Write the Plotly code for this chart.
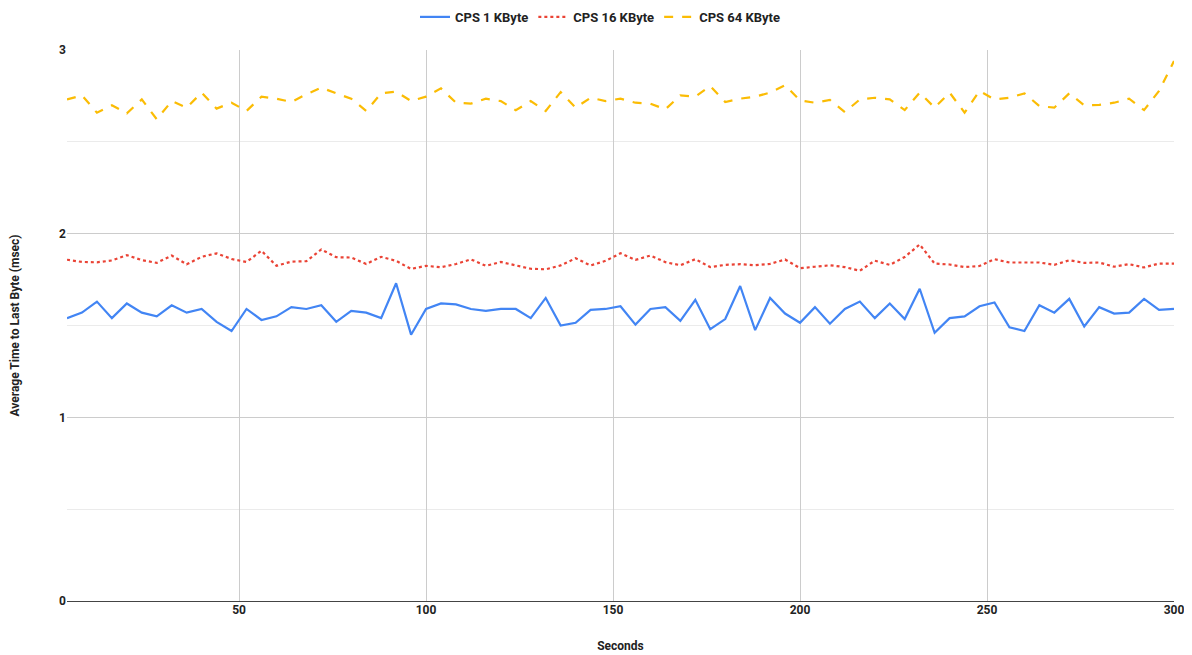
import plotly.graph_objects as go

seconds = list(range(4, 301, 4))

cps_1k = [1.54, 1.57, 1.63, 1.54, 1.62, 1.57, 1.55, 1.61, 1.57, 1.59,
          1.52, 1.47, 1.59, 1.53, 1.55, 1.60, 1.59, 1.61, 1.52, 1.58,
          1.57, 1.54, 1.73, 1.45, 1.59, 1.62, 1.615, 1.59, 1.58, 1.59,
          1.59, 1.54, 1.65, 1.50, 1.515, 1.585, 1.59, 1.605, 1.505, 1.59,
          1.60, 1.525, 1.64, 1.48, 1.535, 1.715, 1.475, 1.65, 1.565, 1.515,
          1.60, 1.51, 1.59, 1.63, 1.54, 1.62, 1.535, 1.70, 1.46, 1.54,
          1.55, 1.605, 1.625, 1.49, 1.47, 1.61, 1.57, 1.645, 1.495, 1.60,
          1.565, 1.57, 1.645, 1.585, 1.59]

cps_16k = [1.858, 1.846, 1.844, 1.854, 1.883, 1.856, 1.841, 1.881, 1.833, 1.874,
           1.893, 1.862, 1.846, 1.907, 1.825, 1.848, 1.850, 1.914, 1.872, 1.870,
           1.835, 1.874, 1.852, 1.808, 1.825, 1.817, 1.835, 1.860, 1.825, 1.846,
           1.827, 1.809, 1.806, 1.827, 1.866, 1.827, 1.852, 1.893, 1.857, 1.881,
           1.845, 1.828, 1.861, 1.818, 1.830, 1.834, 1.828, 1.836, 1.859, 1.812,
           1.820, 1.828, 1.818, 1.798, 1.853, 1.830, 1.873, 1.941, 1.837, 1.832,
           1.818, 1.824, 1.861, 1.843, 1.843, 1.843, 1.830, 1.855, 1.841, 1.843,
           1.820, 1.834, 1.816, 1.837, 1.837]

cps_64k = [2.731, 2.753, 2.659, 2.699, 2.655, 2.731, 2.623, 2.722, 2.686, 2.768,
           2.681, 2.713, 2.668, 2.746, 2.735, 2.717, 2.759, 2.795, 2.764, 2.735,
           2.668, 2.764, 2.773, 2.722, 2.746, 2.791, 2.713, 2.708, 2.735, 2.722,
           2.672, 2.722, 2.668, 2.771, 2.686, 2.740, 2.722, 2.735, 2.713, 2.708,
           2.677, 2.753, 2.746, 2.804, 2.717, 2.735, 2.746, 2.768, 2.808, 2.726,
           2.713, 2.728, 2.662, 2.731, 2.740, 2.731, 2.673, 2.768, 2.686, 2.768,
           2.659, 2.777, 2.731, 2.740, 2.764, 2.695, 2.686, 2.764, 2.699, 2.701,
           2.713, 2.735, 2.673, 2.777, 2.940]

x_ticks = [50, 100, 150, 200, 250, 300]
y_ticks = [0, 1, 2, 3]

fig = go.Figure()
fig.add_trace(go.Scatter(x=seconds, y=cps_1k, mode="lines", name="CPS 1 KByte",
                         line=dict(color="#4285F4", width=2.2)))
fig.add_trace(go.Scatter(x=seconds, y=cps_16k, mode="lines", name="CPS 16 KByte",
                         line=dict(color="#EA4335", width=2.2, dash="dot")))
fig.add_trace(go.Scatter(x=seconds, y=cps_64k, mode="lines", name="CPS 64 KByte",
                         line=dict(color="#FBBC04", width=2.2, dash="dash")))

fig.update_layout(
    width=1184, height=647,
    paper_bgcolor="white", plot_bgcolor="white",
    margin=dict(l=59, r=18, t=42, b=54, autoexpand=False),
    font=dict(family="Roboto, Arial, sans-serif", size=12, color="#222222"),
    showlegend=True,
    legend=dict(orientation="h", x=0.5, xref="container", xanchor="center",
                y=1.06, yref="paper", yanchor="middle",
                font=dict(size=13, color="#222222", weight="bold"),
                itemwidth=30, tracegroupgap=0),
    xaxis=dict(range=[4, 300], tickvals=x_ticks, showgrid=True,
               gridcolor="#cccccc", gridwidth=1, zeroline=False,
               showline=False, ticks="", automargin=False,
               tickfont=dict(size=12, color="#222222", weight="bold"),
               title=dict(text="Seconds", standoff=25,
                          font=dict(size=12, color="#222222", weight="bold"))),
    yaxis=dict(range=[0, 3], tickvals=y_ticks, showgrid=True,
               gridcolor="#cccccc", gridwidth=1,
               minor=dict(dtick=0.5, tick0=0, showgrid=True, gridcolor="#ebebeb", gridwidth=1),
               zeroline=True, zerolinecolor="#444444", zerolinewidth=1,
               showline=False, ticks="", automargin=False,
               tickfont=dict(size=12, color="#222222", weight="bold"),
               title=dict(text="Average Time to Last Byte (msec)", standoff=44,
                          font=dict(size=12, color="#222222", weight="bold"))),
)

fig.write_html("out.html")
